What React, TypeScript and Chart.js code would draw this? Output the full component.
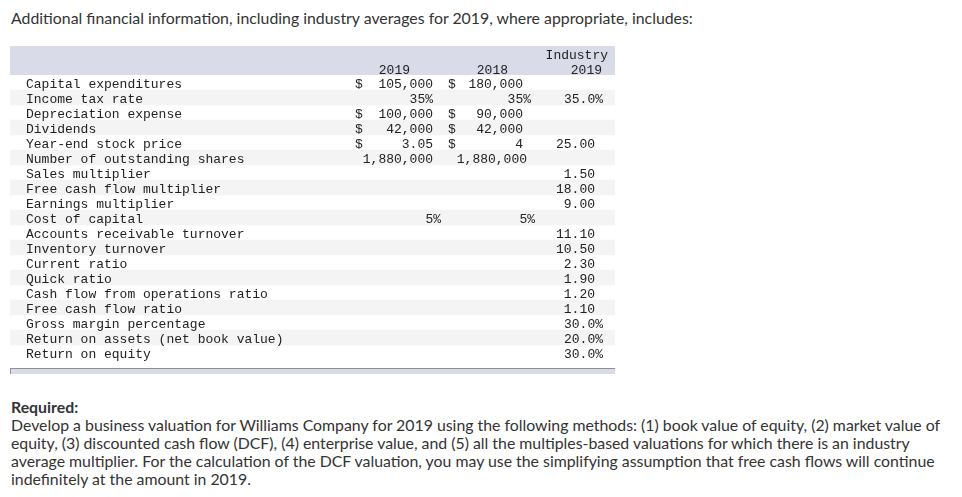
import React, { useEffect, useRef } from 'react';
import { Chart, registerables } from 'chart.js';

Chart.register(...registerables);

// ---------- data ----------
const titleText =
  'Additional financial information, including industry averages for 2019, where appropriate, includes:';

const rowLabels = [
  'Capital expenditures',
  'Income tax rate',
  'Depreciation expense',
  'Dividends',
  'Year-end stock price',
  'Number of outstanding shares',
  'Sales multiplier',
  'Free cash flow multiplier',
  'Earnings multiplier',
  'Cost of capital',
  'Accounts receivable turnover',
  'Inventory turnover',
  'Current ratio',
  'Quick ratio',
  'Cash flow from operations ratio',
  'Free cash flow ratio',
  'Gross margin percentage',
  'Return on assets (net book value)',
  'Return on equity',
];

// unit of each row: usd = dollar amount, pct = percent, cost = cost-of-capital percent,
// count = plain count, x = multiple / ratio
const rowUnits = [
  'usd', 'pct', 'usd', 'usd', 'usd', 'count', 'x', 'x', 'x', 'cost',
  'x', 'x', 'x', 'x', 'x', 'x', 'pct', 'pct', 'pct',
];

const company2019: (number | null)[] = [
  105000, 0.35, 100000, 42000, 3.05, 1880000, null, null, null, 0.05,
  null, null, null, null, null, null, null, null, null,
];
const company2018: (number | null)[] = [
  180000, 0.35, 90000, 42000, 4, 1880000, null, null, null, 0.05,
  null, null, null, null, null, null, null, null, null,
];
const industry2019: (number | null)[] = [
  null, 0.35, null, null, 25, null, 1.5, 18, 9, null,
  11.1, 10.5, 2.3, 1.9, 1.2, 1.1, 0.3, 0.2, 0.3,
];

const headerLine1 = ['', '', 'Industry'];
const headerLine2 = ['2019', '2018', '2019'];

const requiredLabel = 'Required:';
const requiredLines = [
  'Develop a business valuation for Williams Company for 2019 using the following methods: (1) book value of equity, (2) market value of',
  'equity, (3) discounted cash flow (DCF), (4) enterprise value, and (5) all the multiples-based valuations for which there is an industry',
  'average multiplier. For the calculation of the DCF valuation, you may use the simplifying assumption that free cash flows will continue',
  'indefinitely at the amount in 2019.',
];

// ---------- layout / style ----------
const TABLE_LEFT = 10;
const TABLE_TOP = 46;
const TABLE_W = 605;
const TABLE_H = 330;
const HEADER_H = 29;
const BOTTOM_PAD = 16;
const MONO = '13px "Liberation Mono", "DejaVu Sans Mono", monospace';
const TEXT = '#222222';
const BAND = '#d9dce8';
const STRIPE = '#f4f4f4';

// x positions in table units (px from table left)
const LABEL_X = 16;
const COLS = [
  { dollar: 345, usd: 423, count: 423, pct: 423, cost: 431, x: 423, hdr1: 0, hdr2: 400 },
  { dollar: 438, usd: 513, count: 517, pct: 521, cost: 525, x: 517, hdr1: 0, hdr2: 498 },
  { dollar: 0, usd: 585, count: 585, pct: 593, cost: 593, x: 585, hdr1: 598, hdr2: 592 },
];

const fmtNum = (v: number) =>
  v.toLocaleString('en-US', { maximumFractionDigits: 2 });

function formatCell(v: number, unit: string, colIdx: number): string {
  if (unit === 'pct' || unit === 'cost') {
    return colIdx === 2 ? (v * 100).toFixed(1) + '%' : Math.round(v * 100) + '%';
  }
  if (unit === 'x' || colIdx === 2) return v.toFixed(2);
  return fmtNum(v);
}

const tablePlugin = {
  id: 'tableText',
  beforeDatasetsDraw(chart: any) {
    const { ctx, chartArea, scales } = chart;
    const x = scales.x;
    const left = x.getPixelForValue(0);
    const right = x.getPixelForValue(TABLE_W);
    ctx.save();
    // header band
    ctx.fillStyle = BAND;
    ctx.fillRect(left, 0, right - left, chartArea.top);
    // footer band
    const fTop = chartArea.bottom + 8;
    ctx.fillRect(left, fTop, right - left, 6);
    ctx.fillStyle = '#8f8f8f';
    ctx.fillRect(left, fTop, right - left, 1);
    ctx.fillRect(left, fTop, 1, 6);
    ctx.restore();
  },
  afterDatasetsDraw(chart: any) {
    const { ctx, chartArea, scales } = chart;
    const x = scales.x;
    const y = scales.y;
    ctx.save();
    ctx.font = MONO;
    ctx.fillStyle = TEXT;
    ctx.textBaseline = 'alphabetic';
    // headers
    const h1 = chartArea.top - 16;
    const h2 = chartArea.top - 1;
    headerLine1.forEach((t, c) => {
      if (!t) return;
      ctx.textAlign = 'right';
      ctx.fillText(t, x.getPixelForValue(COLS[c].hdr1), h1);
    });
    headerLine2.forEach((t, c) => {
      ctx.textAlign = 'right';
      ctx.fillText(t, x.getPixelForValue(COLS[c].hdr2), h2);
    });
    // rows
    const cols = [company2019, company2018, industry2019];
    rowLabels.forEach((label, i) => {
      const yb = y.getPixelForValue(i) + 5;
      ctx.textAlign = 'left';
      ctx.fillText(label, x.getPixelForValue(LABEL_X), yb);
      const unit = rowUnits[i];
      cols.forEach((arr, c) => {
        const v = arr[i];
        if (v === null || v === undefined) return;
        const col: any = COLS[c];
        if (unit === 'usd' && c < 2) {
          ctx.textAlign = 'left';
          ctx.fillText('$', x.getPixelForValue(col.dollar), yb);
        }
        ctx.textAlign = 'right';
        ctx.fillText(formatCell(v, unit, c), x.getPixelForValue(col[unit]), yb);
      });
    });
    ctx.restore();
  },
};

function TableChart() {
  const ref = useRef<HTMLCanvasElement | null>(null);
  useEffect(() => {
    if (!ref.current) return;
    const chart = new Chart(ref.current, {
      type: 'bar',
      data: {
        labels: rowLabels,
        datasets: [
          {
            data: rowLabels.map((_, i) => (i % 2 === 1 ? [0, TABLE_W] : null)) as any,
            backgroundColor: STRIPE,
            borderWidth: 0,
            barPercentage: 1,
            categoryPercentage: 1,
          },
        ],
      },
      options: {
        indexAxis: 'y',
        animation: false,
        responsive: false,
        maintainAspectRatio: false,
        layout: { padding: { top: HEADER_H, bottom: BOTTOM_PAD, left: 0, right: 0 } },
        scales: {
          x: { type: 'linear', min: 0, max: TABLE_W, display: false },
          y: { type: 'category', display: false, offset: true },
        },
        plugins: {
          legend: { display: false },
          tooltip: { enabled: false },
          title: { display: false },
        },
      },
      plugins: [tablePlugin as any],
    });
    return () => chart.destroy();
  }, []);
  return (
    <canvas
      ref={ref}
      width={TABLE_W}
      height={TABLE_H}
      style={{
        position: 'absolute',
        left: TABLE_LEFT,
        top: TABLE_TOP,
        width: TABLE_W,
        height: TABLE_H,
      }}
    />
  );
}

const SANS = 'Lato, "Open Sans", sans-serif';

export default function App() {
  return (
    <div
      style={{
        position: 'absolute',
        left: 0,
        top: 0,
        width: 962,
        height: 497,
        background: '#ffffff',
        overflow: 'hidden',
        fontFamily: SANS,
        color: '#333333',
      }}
    >
      <div
        style={{
          position: 'absolute',
          left: 11,
          top: 9,
          fontSize: 15.85,
          lineHeight: '18px',
          whiteSpace: 'nowrap',
        }}
      >
        {titleText}
      </div>
      <TableChart />
      <div
        style={{
          position: 'absolute',
          left: 11,
          top: 398,
          fontSize: 15.85,
          lineHeight: '18px',
          whiteSpace: 'nowrap',
        }}
      >
        <div style={{ fontWeight: 700 }}>{requiredLabel}</div>
        {requiredLines.map((l, i) => (
          <div key={i}>{l}</div>
        ))}
      </div>
    </div>
  );
}
